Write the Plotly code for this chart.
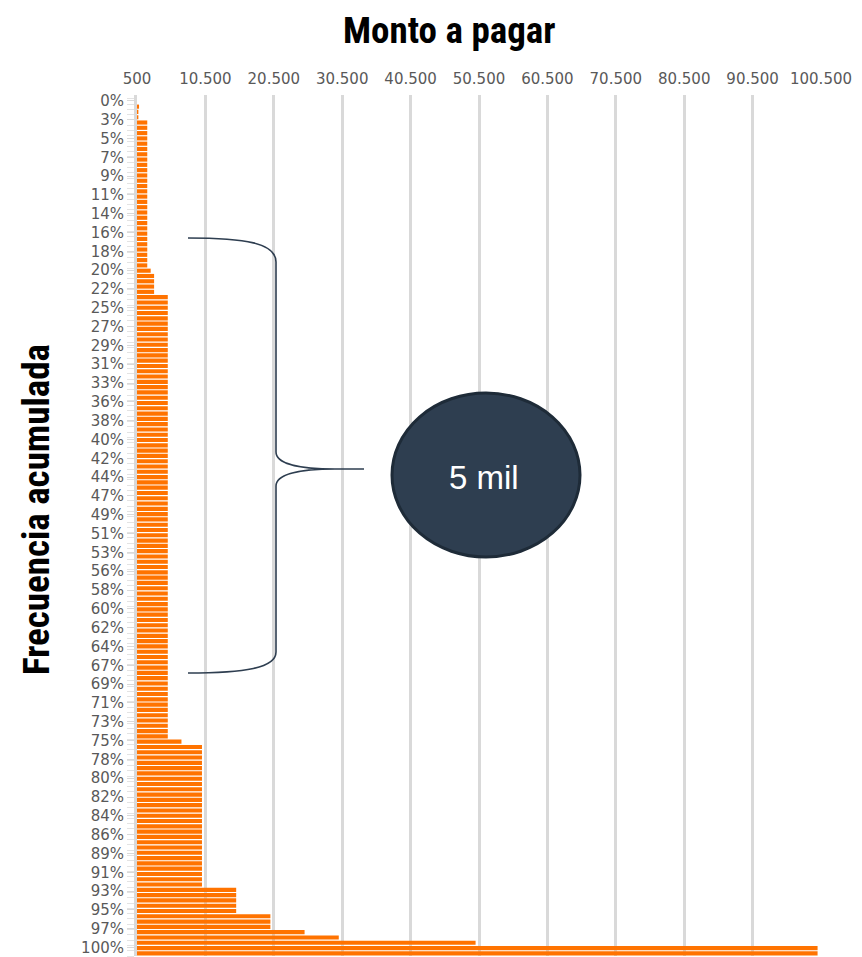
import plotly.graph_objects as go

# ---- data ----
# run-length segments of the amount (Monto a pagar) per sorted case, top to bottom
seg_montos = [800, 700, 700, 2000, 2500, 3000, 5000, 7000, 10000, 15000, 20000, 25000, 30000, 50000, 100000]
seg_counts = [1, 1, 1, 28, 1, 4, 84, 1, 27, 5, 3, 1, 1, 1, 2]

y_labels = ["0%", "3%", "5%", "7%", "9%", "11%", "14%", "16%", "18%", "20%", "22%", "25%",
            "27%", "29%", "31%", "33%", "36%", "38%", "40%", "42%", "44%", "47%", "49%",
            "51%", "53%", "56%", "58%", "60%", "62%", "64%", "67%", "69%", "71%", "73%",
            "75%", "78%", "80%", "82%", "84%", "86%", "89%", "91%", "93%", "95%", "97%", "100%"]

x_ticks = [500, 10500, 20500, 30500, 40500, 50500, 60500, 70500, 80500, 90500, 100500]
x_ticktext = ["500", "10.500", "20.500", "30.500", "40.500", "50.500", "60.500",
              "70.500", "80.500", "90.500", "100.500"]

montos = []
for v, c in zip(seg_montos, seg_counts):
    montos += [v] * c
n = len(montos)
idx = list(range(n))

OFF = 8  # page body margin
W, H = 862 - OFF, 957 - OFF
L, R, T, B = 137 - OFF, 41, 95 - OFF, 1
pw, ph = W - L - R, H - T - B


def px(x):
    return (x - OFF - L) / pw


def py(y):
    return 1 - (y - OFF - T) / ph


fig = go.Figure()
fig.add_trace(go.Bar(
    x=montos, y=idx, orientation="h",
    marker=dict(color="#ff7300", line=dict(width=0)),
    hoverinfo="x",
))

tickvals = [i * (n - 1) / (len(y_labels) - 1) - 1.1 for i in range(len(y_labels))]

narrow = "Liberation Sans Narrow, Arial Narrow, Roboto Condensed, Arial, sans-serif"
lab = "DejaVu Sans, Liberation Sans, Arial, sans-serif"

fig.update_layout(
    width=W, height=H,
    margin=dict(l=L, r=R, t=T, b=B),
    paper_bgcolor="white", plot_bgcolor="white",
    bargap=0.22,
    showlegend=False,
    font=dict(family=lab, color="#595959"),
    xaxis=dict(
        side="top", range=[500, 100500],
        tickmode="array", tickvals=x_ticks, ticktext=x_ticktext,
        tickfont=dict(size=15, color="#595959", family=lab),
        ticks="outside", ticklen=4, tickcolor="rgba(0,0,0,0)",
        showgrid=True, gridcolor="#d9d9d9", gridwidth=3,
        zeroline=False, showline=False,
    ),
    yaxis=dict(
        range=[n - 0.5, -2.2],
        tickmode="array", tickvals=tickvals, ticktext=y_labels,
        tickfont=dict(size=15, color="#595959", family=lab),
        ticks="outside", ticklen=7, tickcolor="#d9d9d9", tickwidth=1,
        minor=dict(ticks="outside", ticklen=7, tickcolor="#e3e3e3", dtick=1, tick0=0.5, showgrid=False),
        showgrid=False, zeroline=False,
        showline=True, linecolor="#d9d9d9", linewidth=3,
    ),
)

# brace
brace = (
    f"M {px(188)} {py(238)} C {px(245)} {py(238)} {px(276)} {py(243)} {px(276)} {py(262)} "
    f"L {px(276)} {py(452)} C {px(276)} {py(464)} {px(300)} {py(469)} {px(335)} {py(469)} "
    f"L {px(364)} {py(469)} M {px(335)} {py(469)} "
    f"C {px(300)} {py(469)} {px(276)} {py(474)} {px(276)} {py(486)} "
    f"L {px(276)} {py(652)} C {px(276)} {py(668)} {px(245)} {py(673)} {px(188)} {py(673)}"
)
fig.add_shape(type="path", path=brace, xref="paper", yref="paper",
              line=dict(color="#2e3e50", width=1.6))

fig.add_shape(type="circle", xref="paper", yref="paper",
              x0=px(392), x1=px(580), y0=py(557), y1=py(393),
              fillcolor="#2e3e50", line=dict(color="#1e2b38", width=3))

fig.add_annotation(text="5 mil", xref="paper", yref="paper", x=px(484), y=py(477),
                   xanchor="center", yanchor="middle",
                   showarrow=False, font=dict(size=33, color="white",
                                              family="Liberation Sans, Arial, sans-serif"))

fig.add_annotation(text="<b>Monto a pagar</b>", xref="paper", yref="paper",
                   x=px(449), y=py(31), xanchor="center", yanchor="middle", showarrow=False,
                   font=dict(size=37, color="black", family=narrow))

fig.add_annotation(text="<b>Frecuencia acumulada</b>", xref="paper", yref="paper",
                   x=px(36), y=py(510), xanchor="center", yanchor="middle",
                   showarrow=False, textangle=-90,
                   font=dict(size=37, color="black", family=narrow))

fig.write_html("out.html")
